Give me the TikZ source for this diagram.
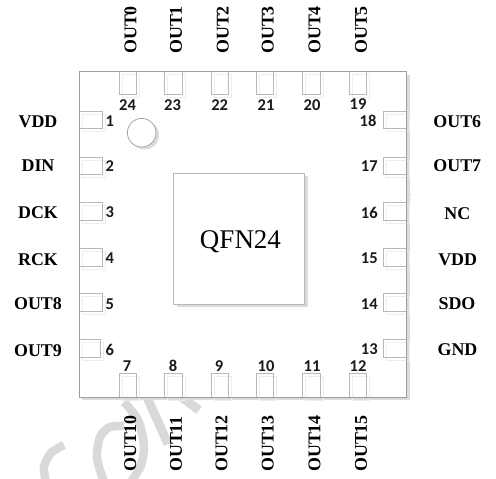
\documentclass[tikz,border=0pt]{standalone}
\usepackage{fontspec}
\setmainfont{Liberation Serif}
\newfontfamily\numfont{Carlito}
\definecolor{edgegray}{gray}{0.62}
\definecolor{pingray}{gray}{0.72}
\definecolor{shadegray}{gray}{0.86}
\definecolor{pinshade}{gray}{0.93}
\definecolor{markgray}{gray}{0.85}
\begin{document}
\begin{tikzpicture}[x=1pt,y=-1pt,
  box/.style={draw=edgegray,line width=0.8pt,fill=white,inner sep=0pt,outer sep=0pt},
  boxshade/.style={fill=shadegray,draw=none,inner sep=0pt,outer sep=0pt},
  pinbox/.style={draw=pingray,line width=0.7pt,inner sep=0pt,outer sep=0pt},
  pinshade/.style={draw=pinshade,line width=0.7pt,inner sep=0pt,outer sep=0pt},
  sig/.style={font=\fontsize{17.9}{18}\selectfont\bfseries,inner sep=0pt,text=black},
  sigup/.style={sig,rotate=90,anchor=west},
  num/.style={font=\fontsize{16.5}{16.5}\selectfont\numfont\bfseries,inner sep=0pt,text=black!90,text height=10.4pt,text depth=0pt}]
\useasboundingbox (0,0) rectangle (496,479);
\fill[white] (0,0) rectangle (496,479);
% watermark
\begin{scope}
\clip (0,0) rectangle (496,479);
\draw[markgray,line width=8.5pt] plot[smooth] coordinates {(64,445) (51,453) (44,467) (46,482)};
\draw[markgray,line width=8.5pt] plot[smooth] coordinates {(104,482) (97,458) (100,437) (110,427) (124,426)};
\draw[markgray,line width=8.5pt] plot[smooth] coordinates {(124,402) (138,420) (144,445) (141,465) (131,482)};
\draw[markgray,line width=9pt] (146,395) -- (168,444);
\draw[markgray,line width=9pt] (176,393) -- (199,410);
\fill[markgray] (406,190) -- (411,195) -- (406,201) -- cycle;
\end{scope}
% package
\node[boxshade,minimum width=327.6pt,minimum height=325.6pt] at (246,237.3) {};
\node[box,minimum width=327.6pt,minimum height=325.6pt] (pkg) at (243,234.3) {};
% die
\node[boxshade,minimum width=131pt,minimum height=131pt] at (242,241.5) {};
\node[box,draw=pingray,minimum width=131pt,minimum height=131pt] (die) at (239,238.5) {};
\node[font=\fontsize{27}{27}\selectfont,inner sep=0pt,anchor=base] (dielabel) at (240.5,248) {QFN24};
% index dot
\node[circle,fill=shadegray,minimum size=28.6pt,inner sep=0pt] at (144.7,135.2) {};
\node[circle,draw=edgegray,line width=0.7pt,fill=white,minimum size=28.6pt,inner sep=0pt] (dot) at (141.7,132.7) {};
% pads: name / centre x / centre y / width / height
\foreach \n/\cx/\cy/\w/\h in {
  a24/128/82.8/17.5/23.5, a23/173.2/82.8/17.5/23.5, a22/220/82.8/17.5/23.5,
  a21/265/82.8/17.5/23.5, a20/311.2/82.8/17.5/23.5, a19/358/82.8/17.5/23.5,
  a7/128/385.3/17.5/23.5, a8/173.2/385.3/17.5/23.5, a9/220/385.3/17.5/23.5,
  a10/265/385.3/17.5/23.5, a11/311.2/385.3/17.5/23.5, a12/358/385.3/17.5/23.5,
  a1/90.7/119.8/23.5/17, a2/90.7/165.7/23.5/17.7, a3/90.7/211.2/23.5/17.7,
  a4/90.7/257.2/23.5/17.7, a5/90.7/302.2/23.5/17.7, a6/89.8/348.7/21.7/17.9,
  a18/395/119.8/23.5/17, a17/395/165.7/23.5/17.7, a16/395/211.2/23.5/17.7,
  a15/395/257.2/23.5/17.7, a14/395/302.2/23.5/17.7, a13/395/348.7/23.5/17.9}{
  \node[pinshade,minimum width=\w pt,minimum height=\h pt] at (\cx+3,\cy+3) {};
  \node[pinbox,minimum width=\w pt,minimum height=\h pt] (\n) at (\cx,\cy) {};
}
% redraw package edge over pad shadows
\node[draw=edgegray,line width=0.8pt,minimum width=327.6pt,minimum height=325.6pt,inner sep=0pt] (edge) at (243,234.3) {};
% pin numbers
\foreach \t/\cx/\cy in {
  24/127.5/105.7, 23/172.5/105.7, 22/219.7/105.7, 21/266/105.7, 20/312/105.7, 19/358/104,
  1/109.7/121.3, 2/109.7/166.7, 3/109.7/212.7, 4/109.7/258.7, 5/109.7/304, 6/109.7/350,
  18/368/121, 17/369.3/166.7, 16/369.3/213, 15/369.3/258.7, 14/369.3/304, 13/369.3/349,
  7/127/366.7, 8/173/366.7, 9/219/366.7, 10/266/366.7, 11/312/366.7, 12/358/366.7}{
  \node[num] (n\t) at (\cx,\cy) {\t};
}
% signal names
\foreach \t/\nm/\cx/\cy in {
  VDD/l1/38/122, DIN/l2/38/166, DCK/l3/38/212.7, RCK/l4/38/259.3, OUT8/l5/38/304, OUT9/l6/38/350.7,
  OUT6/r18/457.3/121.3, OUT7/r17/457.3/166, NC/r16/457.3/213.7, VDD/r15/457.7/259.3, SDO/r14/457/304, GND/r13/457.5/350}{
  \node[sig] (\nm) at (\cx,\cy) {\t};
}
\foreach \t/\cx in {OUT0/130.5, OUT1/176, OUT2/222.8, OUT3/267.8, OUT4/314.5, OUT5/361}{
  \node[sigup] (\t) at (\cx,54) {\t};
}
\foreach \t/\cx in {OUT10/130.3, OUT11/176, OUT12/221.5, OUT13/267.8, OUT14/314.5, OUT15/361}{
  \node[sigup] (\t) at (\cx,472) {\t};
}
\end{tikzpicture}
\end{document}
